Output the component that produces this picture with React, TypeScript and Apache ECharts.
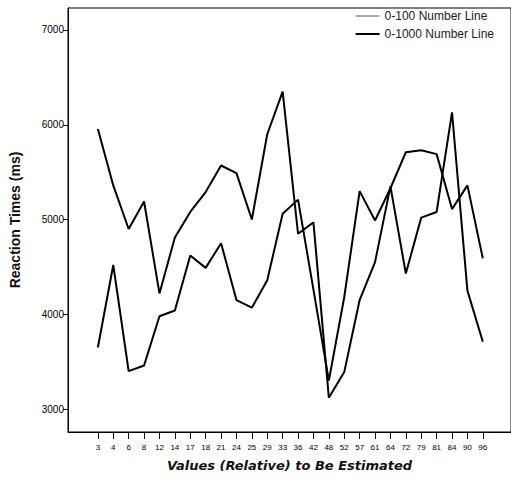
import React, { useEffect, useRef } from "react";
import * as echarts from "echarts";

const categories = ["3", "4", "6", "8", "12", "14", "17", "18", "21", "24", "25", "29", "33", "36", "42", "48", "52", "57", "61", "64", "72", "79", "81", "84", "90", "96"];
const series100 = [3650, 4520, 3400, 3460, 3980, 4040, 4620, 4490, 4750, 4150, 4070, 4360, 5060, 5210, 4260, 3300, 4180, 5300, 4990, 5330, 5710, 5730, 5690, 5110, 5360, 4590];
const series1000 = [5955, 5360, 4900, 5190, 4220, 4810, 5080, 5290, 5570, 5490, 5000, 5900, 6350, 4850, 4970, 3120, 3390, 4150, 4550, 5350, 4430, 5020, 5080, 6130, 4250, 3710];
const yTicks = [3000, 4000, 5000, 6000, 7000];
const seriesNames = ["0-100 Number Line", "0-1000 Number Line"];

export default function App() {
  const ref = useRef<HTMLDivElement>(null);
  useEffect(() => {
    if (!ref.current) return;
    const chart = echarts.init(ref.current, null, { renderer: "svg" });
    const idx = categories.map((_, i) => i);
    chart.setOption({
      animation: false,
      backgroundColor: "#fff",
      textStyle: { fontFamily: "Liberation Sans, Arial, sans-serif" },
      grid: { left: 68, top: 8, right: -2, bottom: 52, show: true, borderColor: "#000", borderWidth: 1 },
      legend: {
        orient: "vertical",
        right: 12,
        top: 5,
        itemWidth: 24,
        itemHeight: 2,
        itemGap: 6,
        icon: "rect",
        textStyle: { fontSize: 12, color: "#222" },
        data: [
          { name: seriesNames[0], itemStyle: { color: "#aaa" } },
          { name: seriesNames[1], itemStyle: { color: "#000" } },
        ],
      },
      xAxis: {
        type: "value",
        min: -1.94,
        max: 26.83,
        name: "Values (Relative) to Be Estimated",
        nameLocation: "middle",
        nameGap: 27,
        nameTextStyle: { fontSize: 13, fontWeight: "bold", fontStyle: "italic", color: "#111", fontFamily: "DejaVu Sans, Verdana, sans-serif" },
        splitLine: { show: false },
        axisLine: { show: true, onZero: false, lineStyle: { color: "#000", width: 1 } },
        axisTick: { show: true, customValues: idx, length: 7, lineStyle: { color: "#000" } },
        axisLabel: {
          customValues: idx,
          formatter: (v: number) => categories[Math.round(v)] ?? "",
          fontSize: 8,
          color: "#000",
          margin: 11,
          showMinLabel: true,
          showMaxLabel: true,
        },
      },
      yAxis: {
        type: "value",
        min: 2758,
        max: 7232,
        name: "Reaction Times (ms)",
        nameLocation: "middle",
        nameGap: 46,
        nameTextStyle: { fontSize: 14, fontWeight: "bold", color: "#111" },
        splitLine: { show: false },
        axisLine: { show: true, onZero: false, lineStyle: { color: "#000", width: 1 } },
        axisTick: { show: true, customValues: yTicks, length: 5, lineStyle: { color: "#000" } },
        axisLabel: { customValues: yTicks, formatter: (v: number) => String(v), fontSize: 10, color: "#000", margin: 4 },
      },
      series: [
        {
          name: seriesNames[0],
          type: "line",
          symbol: "none",
          data: series100.map((v, i) => [i, v]),
          lineStyle: { color: "#000", width: 2 },
          itemStyle: { color: "#000" },
        },
        {
          name: seriesNames[1],
          type: "line",
          symbol: "none",
          data: series1000.map((v, i) => [i, v]),
          lineStyle: { color: "#000", width: 2 },
          itemStyle: { color: "#000" },
        },
      ],
    });
    return () => chart.dispose();
  }, []);
  return <div ref={ref} style={{ width: 511, height: 484, position: "absolute", left: 0, top: 0 }} />;
}
